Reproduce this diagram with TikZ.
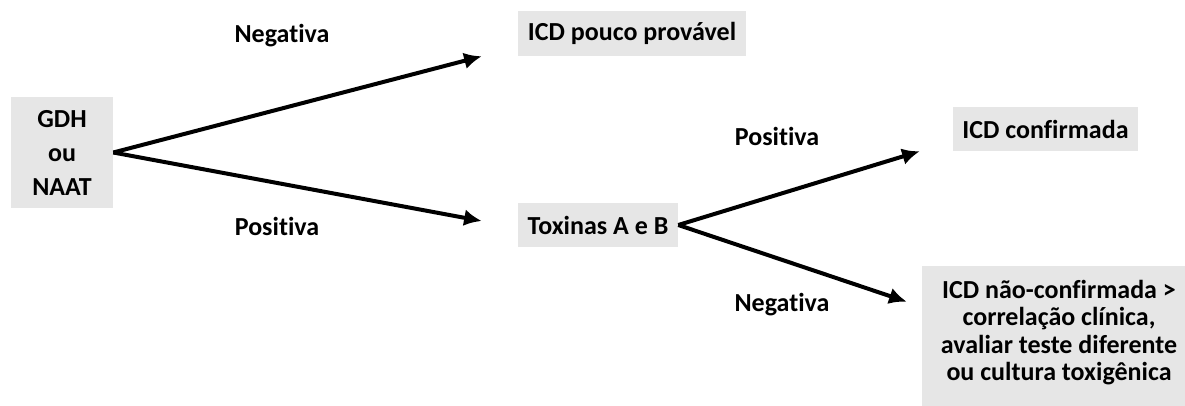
\documentclass[tikz,border=0pt]{standalone}
\usepackage{fontspec}
\setmainfont{Carlito}[Ligatures={NoCommon,NoContextual}]
\usepackage{tikz}
\usetikzlibrary{arrows.meta}
\definecolor{boxgray}{RGB}{230,230,230}

\begin{document}
\begin{tikzpicture}[scale=1,
  every node/.style={font=\fontsize{18.5}{19.4}\selectfont\bfseries},
  box/.style={fill=boxgray,inner sep=0pt,align=center},
  lbl/.style={anchor=base},
  arr/.style={-{Latex[length=0.44cm,width=0.42cm]},line width=0.1cm}]
\useasboundingbox (0,0) rectangle (29.625,10.125);
% boxes
\node[box,minimum width=2.55cm,minimum height=2.775cm,font=\fontsize{18.5}{24.2}\selectfont\bfseries](gdh)at(1.55,6.3125){GDH\\ou\\NAAT};
\node[box,minimum width=5.7cm,minimum height=1.125cm](pouco)at(15.8,9.2875){ICD pouco provável};
\node[box,minimum width=4cm,minimum height=1.1cm](tox)at(14.95,4.5){Toxinas A e B};
\node[box,minimum width=4.625cm,minimum height=1.1cm](conf)at(26.1375,6.9){ICD confirmada};
\node[box,minimum width=6.85cm,minimum height=3.625cm,text depth=0.4cm](nconf)at(26.475,1.6625){ICD não-confirmada >\\correlação clínica,\\avaliar teste diferente\\ou cultura toxigênica};
% labels
\node[lbl](neg1)at(7.05,9.05){Negativa};
\node[lbl](pos1)at(6.925,4.25){Positiva};
\node[lbl](pos2)at(19.425,6.5){Positiva};
\node[lbl](neg2)at(19.55,2.35){Negativa};
% arrows
\draw[arr](gdh.east)--([xshift=-0.9cm]pouco.south west);
\draw[arr](gdh.east)--([xshift=-0.9cm,yshift=0.1cm]tox.west);
\draw[arr](tox.east)--([xshift=-0.825cm]conf.south west);
\draw[arr](tox.east)--([xshift=-0.375cm,yshift=-0.9cm]nconf.north west);
\end{tikzpicture}
\end{document}
